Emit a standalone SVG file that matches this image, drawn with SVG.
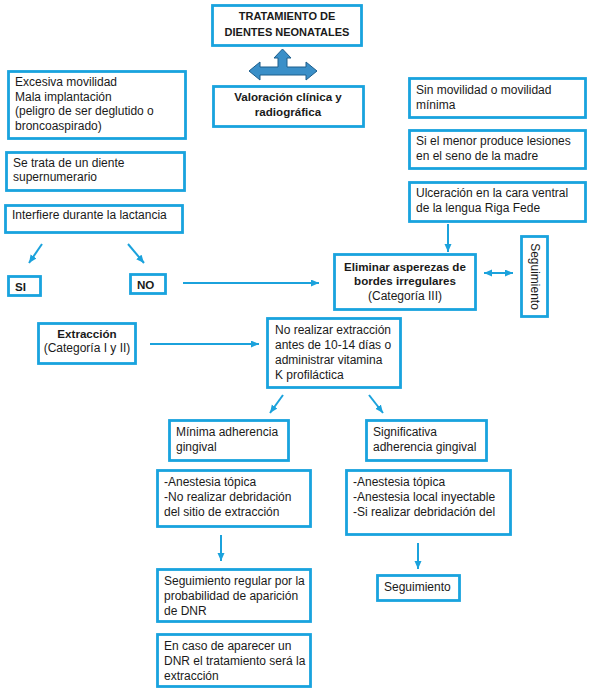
<svg xmlns="http://www.w3.org/2000/svg" width="591" height="689" viewBox="0 0 591 689">
<style>
.box{fill:#fff;stroke:#19a3de;stroke-width:2.8}
.t{font-family:"Liberation Sans",Arial,sans-serif;font-size:12px;fill:#1a1a1a}
.b{font-family:"Liberation Sans",Arial,sans-serif;font-size:11.6px;font-weight:bold;fill:#1a1a1a}
.c{text-anchor:middle}
.ln{stroke:#1ba2dc;stroke-width:2;fill:none;marker-end:url(#ah)}
</style>
<defs>
<marker id="ah" markerUnits="userSpaceOnUse" markerWidth="9" markerHeight="8" refX="8" refY="3.5" orient="auto-start-reverse">
<path d="M0,0 L8,3.5 L0,7 z" fill="#1ba2dc"/>
</marker>
</defs>
<rect width="591" height="689" fill="#fff"/>

<g id="connectors">
<path class="ln" d="M42,244 L29,263"/>
<path class="ln" d="M128,244 L144,263"/>
<path class="ln" d="M183,283 L319,283"/>
<path class="ln" d="M448,224 L448,252"/>
<path class="ln" d="M484,273 L513,273" style="marker-start:url(#ah)"/>
<path class="ln" d="M150,344 L259,344"/>
<path class="ln" d="M283,395 L270,413"/>
<path class="ln" d="M369,395 L383,413"/>
<path class="ln" d="M221,535 L221,561"/>
<path class="ln" d="M418,543 L418,569"/>
<path id="block-arrow" d="M282.5,49 L291,58 L287,58 L287,67 L306,67 L306,62 L317,71 L306,80 L306,75 L260,75 L260,80 L249,71 L260,62 L260,67 L278,67 L278,58 L274,58 Z" fill="#3a8fc8" stroke="#1d5e8c" stroke-width="1"/>
</g>

<g id="n-titulo">
<rect class="box" x="212.5" y="5.5" width="149" height="40"/>
<text class="b c" x="287" y="20" style="font-size:11px">TRATAMIENTO DE</text>
<text class="b c" x="287" y="36" style="font-size:11px">DIENTES NEONATALES</text>
</g>

<g id="n-valoracion">
<rect class="box" x="213.5" y="86.5" width="150" height="40"/>
<text class="b c" x="288" y="101">Valoración clínica y</text>
<text class="b c" x="288" y="116">radiográfica</text>
</g>

<g id="n-excesiva">
<rect class="box" x="8.5" y="71.5" width="177" height="67"/>
<text class="t" x="15" y="86">Excesiva movilidad</text>
<text class="t" x="15" y="100.5">Mala implantación</text>
<text class="t" x="15" y="115">(peligro de ser deglutido o</text>
<text class="t" x="15" y="129.5">broncoaspirado)</text>
</g>

<g id="n-supernumerario">
<rect class="box" x="6.5" y="152.5" width="178" height="38"/>
<text class="t" x="13" y="167">Se trata de un diente</text>
<text class="t" x="13" y="181">supernumerario</text>
</g>

<g id="n-lactancia">
<rect class="box" x="5.5" y="205.5" width="177" height="27"/>
<text class="t" x="12" y="219">Interfiere durante la lactancia</text>
</g>

<g id="n-si">
<rect class="box" x="8.5" y="276.5" width="32" height="19"/>
<text class="b" x="15" y="291">SI</text>
</g>

<g id="n-no">
<rect class="box" x="130.5" y="274.5" width="35" height="19"/>
<text class="b" x="137" y="289">NO</text>
</g>

<g id="n-sin-movilidad">
<rect class="box" x="409.5" y="78.5" width="176" height="39"/>
<text class="t" x="416" y="94">Sin movilidad o movilidad</text>
<text class="t" x="416" y="109">mínima</text>
</g>

<g id="n-lesiones">
<rect class="box" x="409.5" y="130.5" width="176" height="38"/>
<text class="t" x="416" y="145">Si el menor produce lesiones</text>
<text class="t" x="416" y="160">en el seno de la madre</text>
</g>

<g id="n-ulceracion">
<rect class="box" x="409.5" y="182.5" width="176" height="39"/>
<text class="t" x="416" y="197">Ulceración en la cara ventral</text>
<text class="t" x="416" y="212">de la lengua Riga Fede</text>
</g>

<g id="n-eliminar">
<rect class="box" x="334.5" y="254.5" width="141" height="55"/>
<text class="b c" x="405" y="271">Eliminar asperezas de</text>
<text class="b c" x="405" y="285">bordes irregulares</text>
<text class="t c" x="405" y="300">(Categoría III)</text>
</g>

<g id="n-seguimiento-v">
<rect class="box" x="521.5" y="236.5" width="26" height="80"/>
<text class="t c" transform="translate(530.5,276.5) rotate(90)" x="0" y="0">Seguimiento</text>
</g>

<g id="n-extraccion">
<rect class="box" x="38.5" y="323.5" width="97" height="40"/>
<text class="b c" x="87" y="338">Extracción</text>
<text class="t c" x="87" y="352">(Categoría I y II)</text>
</g>

<g id="n-no-realizar">
<rect class="box" x="267.5" y="318.5" width="133" height="69"/>
<text class="t" x="275" y="334">No realizar extracción</text>
<text class="t" x="275" y="349">antes de 10-14 días o</text>
<text class="t" x="275" y="364">administrar vitamina</text>
<text class="t" x="275" y="379">K profiláctica</text>
</g>

<g id="n-minima">
<rect class="box" x="169.5" y="420.5" width="119" height="40"/>
<text class="t" x="176" y="436">Mínima adherencia</text>
<text class="t" x="176" y="451">gingival</text>
</g>

<g id="n-significativa">
<rect class="box" x="366.5" y="420.5" width="120" height="40"/>
<text class="t" x="373" y="436">Significativa</text>
<text class="t" x="373" y="451">adherencia gingival</text>
</g>

<g id="n-anestesia-1">
<rect class="box" x="157.5" y="470.5" width="153" height="56"/>
<text class="t" x="164" y="486">-Anestesia tópica</text>
<text class="t" x="164" y="501">-No realizar debridación</text>
<text class="t" x="164" y="516">del sitio de extracción</text>
</g>

<g id="n-anestesia-2">
<rect class="box" x="346.5" y="470.5" width="164" height="64"/>
<text class="t" x="353" y="486">-Anestesia tópica</text>
<text class="t" x="353" y="501">-Anestesia local inyectable</text>
<text class="t" x="353" y="516">-Si realizar debridación del</text>
</g>

<g id="n-seguimiento-regular">
<rect class="box" x="157.5" y="569.5" width="153" height="52"/>
<text class="t" x="164" y="585">Seguimiento regular por la</text>
<text class="t" x="164" y="600">probabilidad de aparición</text>
<text class="t" x="164" y="615">de DNR</text>
</g>

<g id="n-seguimiento">
<rect class="box" x="377.5" y="575.5" width="82" height="25"/>
<text class="t" x="384" y="591">Seguimiento</text>
</g>

<g id="n-en-caso">
<rect class="box" x="157.5" y="634.5" width="153" height="52"/>
<text class="t" x="164" y="650">En caso de aparecer un</text>
<text class="t" x="164" y="665">DNR el tratamiento será la</text>
<text class="t" x="164" y="680">extracción</text>
</g>
</svg>
